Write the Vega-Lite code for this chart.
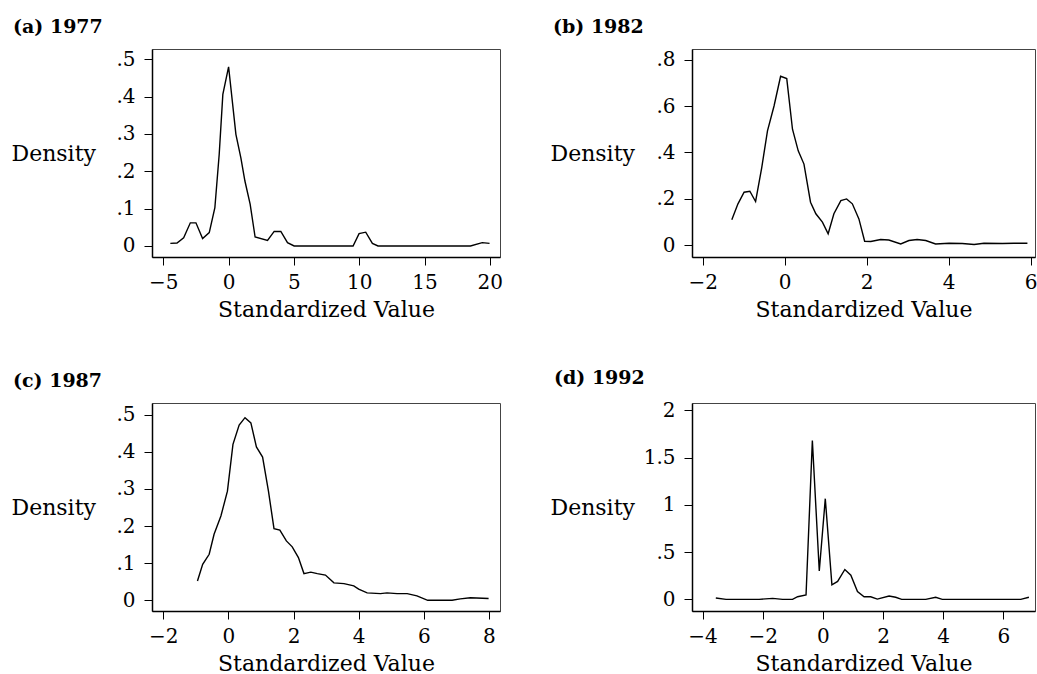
{
  "$schema": "https://vega.github.io/schema/vega-lite/v6.json",
  "background": "white",
  "padding": {"left": 10, "top": 17, "right": 0, "bottom": 0},
  "autosize": {"type": "pad"},
  "config": {
    "font": "DejaVu Serif",
    "view": {"stroke": "#444", "strokeWidth": 1},
    "axis": {
      "grid": false,
      "domainColor": "black",
      "domainWidth": 1.5,
      "tickColor": "black",
      "tickWidth": 1,
      "tickSize": 8,
      "labelColor": "black",
      "titleColor": "black",
      "labelFont": "DejaVu Serif",
      "titleFont": "DejaVu Serif",
      "labelFontSize": 20,
      "titleFontSize": 22,
      "titleFontWeight": "normal",
      "labelPadding": 9
    },
    "axisX": {"titlePadding": 7, "labelPadding": 7, "format": "~g"},
    "axisY": {
      "titleAngle": 0,
      "titleX": -141,
      "titleY": 104,
      "titleAlign": "left",
      "titleBaseline": "middle",
      "labelExpr": "datum.value > 0 && datum.value < 1 ? replace(format(datum.value, '.1f'), '0.', '.') : format(datum.value, '~g')"
    },
    "title": {
      "anchor": "start",
      "frame": "group",
      "fontSize": 19,
      "fontWeight": "bold",
      "font": "DejaVu Serif",
      "color": "black",
      "baseline": "alphabetic",
      "dx": -139,
      "offset": 12
    }
  },
  "datasets": {
    "a": [
      {"x": -4.46, "density": 0.007}, {"x": -3.95, "density": 0.008}, {"x": -3.44, "density": 0.022},
      {"x": -2.93, "density": 0.062}, {"x": -2.5, "density": 0.062}, {"x": -1.99, "density": 0.02},
      {"x": -1.48, "density": 0.036}, {"x": -1.05, "density": 0.103}, {"x": -0.72, "density": 0.245},
      {"x": -0.44, "density": 0.406}, {"x": 0.0, "density": 0.48}, {"x": 0.56, "density": 0.299},
      {"x": 0.94, "density": 0.236}, {"x": 1.25, "density": 0.174}, {"x": 1.65, "density": 0.112},
      {"x": 2.03, "density": 0.024}, {"x": 2.98, "density": 0.015}, {"x": 3.49, "density": 0.039},
      {"x": 4.0, "density": 0.039}, {"x": 4.51, "density": 0.009}, {"x": 5.02, "density": 0.0},
      {"x": 9.53, "density": 0.0}, {"x": 9.99, "density": 0.033}, {"x": 10.5, "density": 0.037},
      {"x": 11.01, "density": 0.007}, {"x": 11.44, "density": 0.0}, {"x": 18.52, "density": 0.0},
      {"x": 19.42, "density": 0.009}, {"x": 19.98, "density": 0.007}
    ],
    "b": [
      {"x": -1.29, "density": 0.11}, {"x": -1.14, "density": 0.179}, {"x": -0.99, "density": 0.229},
      {"x": -0.85, "density": 0.233}, {"x": -0.71, "density": 0.189}, {"x": -0.56, "density": 0.335},
      {"x": -0.42, "density": 0.493}, {"x": -0.26, "density": 0.6}, {"x": -0.1, "density": 0.728},
      {"x": 0.05, "density": 0.718}, {"x": 0.19, "density": 0.5}, {"x": 0.33, "density": 0.407},
      {"x": 0.47, "density": 0.35}, {"x": 0.63, "density": 0.186}, {"x": 0.76, "density": 0.136},
      {"x": 0.92, "density": 0.1}, {"x": 1.06, "density": 0.05}, {"x": 1.2, "density": 0.136},
      {"x": 1.37, "density": 0.193}, {"x": 1.51, "density": 0.2}, {"x": 1.65, "density": 0.179},
      {"x": 1.81, "density": 0.114}, {"x": 1.95, "density": 0.018}, {"x": 2.1, "density": 0.017},
      {"x": 2.34, "density": 0.025}, {"x": 2.54, "density": 0.023}, {"x": 2.83, "density": 0.006},
      {"x": 3.03, "density": 0.021}, {"x": 3.23, "density": 0.025}, {"x": 3.44, "density": 0.021},
      {"x": 3.68, "density": 0.006}, {"x": 4.01, "density": 0.009}, {"x": 4.33, "density": 0.008},
      {"x": 4.62, "density": 0.004}, {"x": 4.86, "density": 0.009}, {"x": 5.31, "density": 0.008},
      {"x": 5.59, "density": 0.009}, {"x": 5.92, "density": 0.009}
    ],
    "c": [
      {"x": -0.95, "density": 0.052}, {"x": -0.79, "density": 0.097}, {"x": -0.59, "density": 0.124},
      {"x": -0.44, "density": 0.178}, {"x": -0.23, "density": 0.227}, {"x": -0.03, "density": 0.294},
      {"x": 0.14, "density": 0.42}, {"x": 0.33, "density": 0.472}, {"x": 0.51, "density": 0.492},
      {"x": 0.69, "density": 0.478}, {"x": 0.86, "density": 0.413}, {"x": 1.05, "density": 0.386},
      {"x": 1.23, "density": 0.294}, {"x": 1.4, "density": 0.193}, {"x": 1.58, "density": 0.189},
      {"x": 1.78, "density": 0.16}, {"x": 1.96, "density": 0.144}, {"x": 2.15, "density": 0.115},
      {"x": 2.32, "density": 0.072}, {"x": 2.53, "density": 0.076}, {"x": 2.73, "density": 0.072},
      {"x": 2.98, "density": 0.068}, {"x": 3.24, "density": 0.047}, {"x": 3.55, "density": 0.045},
      {"x": 3.85, "density": 0.039}, {"x": 4.0, "density": 0.03}, {"x": 4.26, "density": 0.02},
      {"x": 4.67, "density": 0.018}, {"x": 4.87, "density": 0.02}, {"x": 5.18, "density": 0.018},
      {"x": 5.49, "density": 0.018}, {"x": 5.79, "density": 0.012}, {"x": 6.12, "density": 0.0},
      {"x": 6.87, "density": 0.0}, {"x": 7.12, "density": 0.004}, {"x": 7.43, "density": 0.007},
      {"x": 7.99, "density": 0.005}
    ],
    "d": [
      {"x": -3.56, "density": 0.014}, {"x": -3.22, "density": 0.0}, {"x": -2.12, "density": 0.0},
      {"x": -1.67, "density": 0.011}, {"x": -1.34, "density": 0.0}, {"x": -1.01, "density": 0.0},
      {"x": -0.84, "density": 0.028}, {"x": -0.56, "density": 0.046}, {"x": -0.35, "density": 1.68},
      {"x": -0.12, "density": 0.3}, {"x": 0.08, "density": 1.065}, {"x": 0.3, "density": 0.154},
      {"x": 0.49, "density": 0.19}, {"x": 0.73, "density": 0.316}, {"x": 0.93, "density": 0.255},
      {"x": 1.15, "density": 0.082}, {"x": 1.37, "density": 0.028}, {"x": 1.59, "density": 0.028},
      {"x": 1.81, "density": 0.003}, {"x": 2.2, "density": 0.036}, {"x": 2.42, "density": 0.022},
      {"x": 2.62, "density": 0.0}, {"x": 3.42, "density": 0.0}, {"x": 3.75, "density": 0.022},
      {"x": 3.97, "density": 0.0}, {"x": 6.58, "density": 0.0}, {"x": 6.85, "density": 0.022}
    ]
  },
  "columns": 2,
  "bounds": "flush",
  "spacing": {"row": 146, "column": 192},
  "concat": [
    {
      "width": 348, "height": 208,
      "title": {"text": "(a) 1977"},
      "data": {"name": "a"},
      "mark": {"type": "line", "color": "black", "strokeWidth": 1.4, "clip": true},
      "encoding": {
        "x": {"field": "x", "type": "quantitative", "scale": {"domain": [-5.864, 20.78], "nice": false, "zero": false}, "axis": {"values": [-5, 0, 5, 10, 15, 20], "title": "Standardized Value"}},
        "y": {"field": "density", "type": "quantitative", "scale": {"domain": [-0.0295, 0.5276], "nice": false, "zero": false}, "axis": {"values": [0, 0.1, 0.2, 0.3, 0.4, 0.5], "title": "Density"}}
      }
    },
    {
      "width": 343, "height": 208,
      "title": {"text": "(b) 1982", "dx": -139},
      "data": {"name": "b"},
      "mark": {"type": "line", "color": "black", "strokeWidth": 1.4, "clip": true},
      "encoding": {
        "x": {"field": "x", "type": "quantitative", "scale": {"domain": [-2.261, 6.105], "nice": false, "zero": false}, "axis": {"values": [-2, 0, 2, 4, 6], "title": "Standardized Value"}},
        "y": {"field": "density", "type": "quantitative", "scale": {"domain": [-0.05, 0.8454], "nice": false, "zero": false}, "axis": {"values": [0, 0.2, 0.4, 0.6, 0.8], "title": "Density", "titleX": -142}}
      }
    },
    {
      "width": 348, "height": 208,
      "title": {"text": "(c) 1987", "dx": -139},
      "data": {"name": "c"},
      "mark": {"type": "line", "color": "black", "strokeWidth": 1.4, "clip": true},
      "encoding": {
        "x": {"field": "x", "type": "quantitative", "scale": {"domain": [-2.346, 8.34], "nice": false, "zero": false}, "axis": {"values": [-2, 0, 2, 4, 6, 8], "title": "Standardized Value"}},
        "y": {"field": "density", "type": "quantitative", "scale": {"domain": [-0.0288, 0.5315], "nice": false, "zero": false}, "axis": {"values": [0, 0.1, 0.2, 0.3, 0.4, 0.5], "title": "Density"}}
      }
    },
    {
      "width": 343, "height": 208,
      "title": {"text": "(d) 1992", "dx": -138},
      "data": {"name": "d"},
      "mark": {"type": "line", "color": "black", "strokeWidth": 1.4, "clip": true},
      "encoding": {
        "x": {"field": "x", "type": "quantitative", "scale": {"domain": [-4.352, 7.053], "nice": false, "zero": false}, "axis": {"values": [-4, -2, 0, 2, 4, 6], "title": "Standardized Value"}},
        "y": {"field": "density", "type": "quantitative", "scale": {"domain": [-0.123, 2.077], "nice": false, "zero": false}, "axis": {"values": [0, 0.5, 1, 1.5, 2], "title": "Density", "titleX": -142}}
      }
    }
  ]
}
